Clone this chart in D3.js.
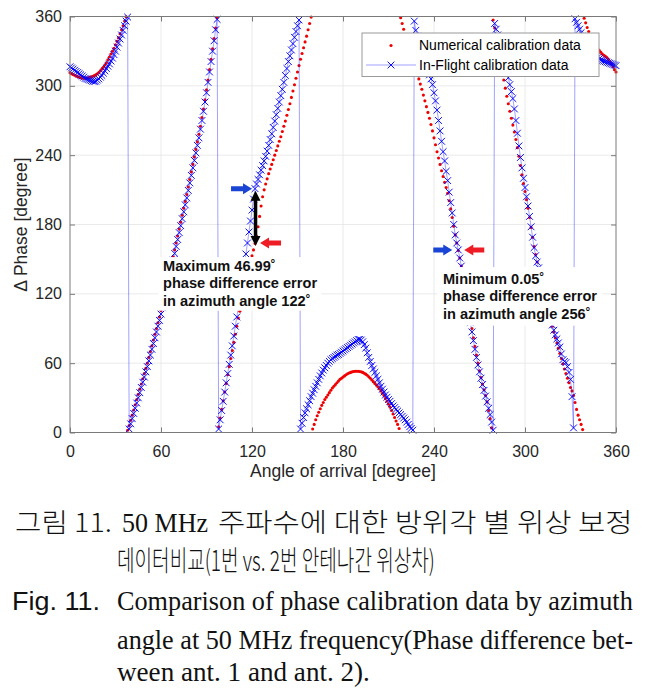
<!DOCTYPE html>
<html><head><meta charset="utf-8">
<script src="https://cdn.jsdelivr.net/npm/d3@7"></script>
<style>body{margin:0;background:#fff}svg{display:block}</style>
</head><body>
<svg id="c" width="650" height="688"></svg>
<script>
// ---------------- DATA ----------------
const angles = d3.range(0, 361, 1); // angle of arrival, 1 degree sampling
// In-Flight calibration data (blue, x markers + line), wrapped 0..360
const inflightPhase = [
 316.5,315.5,314.5,313.5,312.5,311.5,310.5,309.5,308.5,307.5,
 306.5,306,305.5,305,304.5,304,303.8,304,305,306,
 307.5,309,311,313,315,317,319,321.5,324,327,
 330,333.5,337,340.5,344,348,352,356,359.5,3,
 7.5,12,16.5,21,25.5,30,34.5,39,43.5,48,
 52.5,57,62,67,72,77,82,87,92,97,
 102.5,108,113.5,119,125,131,137,143,149,155,
 161,167,173,179,185,191,197,203,209.5,216,
 222.5,229,235.5,242,248.5,255,262.5,270,278,286,
 294,303,312,321,330,339,348.5,357.5,3,11,
 19,27,35,43,51,59,67,75,83.5,92,
 100,109,118,127,136,145,154.5,164,173.5,183,
 192.5,202,211,215,219,223,227,231,235,239,
 243.5,248.5,253.5,258.5,264,269.5,275,280.5,286,291.5,
 297,303,309,315,321,326,331,336.5,342,347,
 352,357,3,8,13,17,20.5,24,27.5,31,
 34,37,40,43,46,49,51.5,54,56,58,
 60,61.5,63,64,65,66,67,67.5,68.5,69.5,
 70.5,71.5,72.5,73.5,74.5,75.5,76.5,77.5,78.5,79.5,
 80.5,80.5,80,78.5,76,73,69,65,61.5,58,
 55,52,49,46,43,40,37.5,35,32.5,30.5,
 28.5,27,25,23,21.5,20,18.5,17,15.5,14,
 12.5,11,9,7,5,3.5,2,356,348,343,
 338,333.5,329,325,321,317,313,309.5,306,301,
 294,287,279,270,261,252,243,235,226,218,
 208,199,190,180,171,164,158,151,144,136,
 128,120,112,104,95,87,79.5,72,65,58.5,
 52.5,47,41.5,36.5,31.5,26.5,21,15.5,9,2,
 354,349,344,339,334,329,324,318.5,313,307,
 301,295,289,280,270,259,248,238,229,220,
 212,204,196,187,178,169,160,153,147.5,142.5,
 137.5,132.5,127,122,116,110,104,98,93,88.5,
 84.5,81,77.5,74,68,63,61.5,60.5,57,52,
 46,31,4,358,355,352,349,346,343,340.5,
 338,336,334,332,330,328.5,327,325.5,324.5,323.5,
 322.5,322,321.5,321,320.5,320,319.5,319,318.5,318,317.5
];
// Numerical calibration data (red dots)
const numericalPhase = [
 311.4,310.5,309.8,309.2,308.6,308,307.5,307,306.7,306.5,
 306.6,306.8,307,307.4,307.8,308.3,308.8,309.5,310.5,311.5,
 313,314.5,316,318,320,322.5,325,327.5,330,332.5,
 335.5,338.5,341.5,345,348.5,352,356,359.8,2,6,
 10.5,15,19.5,24,28.5,33,37.5,42,46.5,51,
 55.5,60,65,70,75,80,85,90,95,100,
 105.5,111,116.5,122,128,134,140,146,152,158,
 164,170,176,182,188,194,200,206,212.5,219,
 225.5,232,238.5,245,251.5,258,265,272.5,280,288,
 296.5,305,314,323,332,341,350,359,5,12.5,
 20,27.5,35,42.5,50,57,64,71,78,85,
 92,99,105,111,117,123,129,135,141,147,
 153,158,163.5,170,178,187,196,204,210,215,
 219.5,224,228,232,236,240,244,248,252,256,
 260.5,265,269.5,274.5,279.5,284.5,290,295.5,301,306.5,
 312,317.5,323,328,333,338,343,348.5,354,359.5,
 3,7,11,14.5,17.5,20.5,23.5,26,28.5,30.5,
 32.5,34.5,36.5,38.5,40,41.5,43,44.5,46,47,
 48,49,50,50.8,51.5,52,52.5,52.8,53,53,
 53,52.8,52.5,52,51.3,50.5,49.5,48.3,47,45.5,
 44,42.5,41,39.5,37.8,36,34,32,29.5,27,
 24.5,22,19,16,13,10,7,3.5,359,354,
 349,344,339.5,335,330.5,326.5,322.5,318.5,314.5,310.5,
 306,301.5,297,292,287,282,277,272,266.5,261,
 255,249,243,237.5,232,226.5,221.5,216.5,212,207,
 200.5,193.5,186,178.5,171,164,157.5,151,144,136.5,
 129,121.5,114,106,98,90,82,74.5,67,60,
 53.5,47.5,42,37,32,26.5,19,12,4,357,
 350,342.5,335,327.5,320,312.5,305,298,291,284.5,
 278,272,266,260,253.5,246.5,239,231,223,215.5,
 208.5,201.5,194,186,177.5,169,161,154,147.5,141.5,
 135.5,130,124.5,119,113.5,108,102.5,97,92,87,
 82,77.5,73,68.5,64,59.5,55,51,47,43,
 39,36,32,26,20,15,11,7,2.5,358.5,
 354.5,350.5,347,344,341,338.5,336,334,332,330.5,
 329,327.5,326.5,325.5,324.5,323,321,319,316.5,314,312
];
const xTicks = [0, 60, 120, 180, 240, 300, 360];
const yTicks = [0, 60, 120, 180, 240, 300, 360];
const seriesNames = ["Numerical calibration data", "In-Flight calibration data"];
const xLabel = "Angle of arrival [degree]";
const yLabel = "\u0394 Phase [degree]";
// annotations: [angle, in-flight value, numerical value]
const maxErr = {angle: 122, blue: 211, red: 164, lines: ["Maximum 46.99\u02DA", "phase difference error", "in azimuth angle 122\u02DA"], textAt: [61.3, 144]};
const minErr = {angle: 256, blue: 158, red: 158, lines: ["Minimum 0.05\u02DA", "phase difference error", "in azimuth angle 256\u02DA"], textAt: [245.9, 132.8]};
const captionKo = ["그림 11.", "50 MHz", "주파수에 대한 방위각 별 위상 보정", "데이터비교(1번 vs. 2번 안테나간 위상차)"];
const captionEn = ["Fig. 11.", "Comparison of phase calibration data by azimuth", "angle at 50 MHz frequency(Phase difference bet-", "ween ant. 1 and ant. 2)."];

// ---------------- DRAW ----------------
const svg = d3.select("#c");
const L = 70, R = 616, T = 16.5, B = 432.5;
const x = d3.scaleLinear().domain([0, 360]).range([L, R]);
const y = d3.scaleLinear().domain([0, 360]).range([B, T]);
const sans = "'Liberation Sans', Arial, sans-serif";

// grid
const g = svg.append("g");
g.selectAll(".gx").data(xTicks.slice(1, -1)).join("line")
  .attr("x1", d => x(d)).attr("x2", d => x(d)).attr("y1", T).attr("y2", B)
  .attr("stroke", "#e4e4e4").attr("stroke-width", 0.8);
g.selectAll(".gy").data(yTicks.slice(1, -1)).join("line")
  .attr("y1", d => y(d)).attr("y2", d => y(d)).attr("x1", L).attr("x2", R)
  .attr("stroke", "#e4e4e4").attr("stroke-width", 0.8);

// axes
const axisColor = "#7a7a7a";
function styleAxis(sel, showText) {
  sel.select(".domain").remove();
  sel.selectAll(".tick line").attr("stroke", axisColor).attr("stroke-width", 1);
  sel.selectAll("text").attr("fill", "#262626").style("font-family", sans).style("font-size", "16px");
  if (!showText) sel.selectAll("text").remove();
}
svg.append("g").attr("transform", `translate(0,${B})`)
  .call(d3.axisBottom(x).tickValues(xTicks).tickSize(-5).tickPadding(13).tickFormat(d3.format("d")))
  .call(s => styleAxis(s, true));
svg.append("g").attr("transform", `translate(0,${T})`)
  .call(d3.axisTop(x).tickValues(xTicks).tickSize(-5))
  .call(s => styleAxis(s, false));
svg.append("g").attr("transform", `translate(${L},0)`)
  .call(d3.axisLeft(y).tickValues(yTicks).tickSize(-5).tickPadding(8).tickFormat(d3.format("d")))
  .call(s => styleAxis(s, true));
svg.append("g").attr("transform", `translate(${R},0)`)
  .call(d3.axisRight(y).tickValues(yTicks).tickSize(-5))
  .call(s => styleAxis(s, false));

svg.append("text").attr("x", (L + R) / 2).attr("y", 477).attr("text-anchor", "middle")
  .style("font-family", sans).style("font-size", "17.5px").attr("fill", "#262626").text(xLabel);
svg.append("text").attr("transform", `translate(27,${(T + B) / 2}) rotate(-90)`).attr("text-anchor", "middle")
  .style("font-family", sans).style("font-size", "17.5px").attr("fill", "#262626").text(yLabel);

// data
const pts = angles.map((a, i) => ({a, n: numericalPhase[i], f: inflightPhase[i]}));
const plot = svg.append("g");
plot.selectAll(".rd").data(pts).join("circle")
  .attr("cx", d => x(d.a)).attr("cy", d => y(d.n)).attr("r", 1.55).attr("fill", "#f00000");
plot.append("path").datum(pts)
  .attr("d", d3.line().x(d => x(d.a)).y(d => y(d.f)))
  .attr("fill", "none").attr("stroke", "#2020ff").attr("stroke-width", 0.6).attr("stroke-opacity", 0.7);
const xm = 3.4;
const xPath = (cx, cy) => `M${cx - xm},${cy - xm}L${cx + xm},${cy + xm}M${cx - xm},${cy + xm}L${cx + xm},${cy - xm}`;
plot.selectAll(".bx").data(pts).join("path")
  .attr("d", d => xPath(x(d.a), y(d.f)))
  .attr("stroke", "#0000ff").attr("stroke-width", 0.95).attr("fill", "none");

// box
svg.append("rect").attr("x", L).attr("y", T).attr("width", R - L).attr("height", B - T)
  .attr("fill", "none").attr("stroke", axisColor).attr("stroke-width", 1);

// legend
const lg = svg.append("g");
lg.append("rect").attr("x", 362).attr("y", 33).attr("width", 237).attr("height", 43.5)
  .attr("fill", "#fff").attr("stroke", "#9a9a9a").attr("stroke-width", 1);
lg.append("circle").attr("cx", 391).attr("cy", 45.5).attr("r", 1.6).attr("fill", "#f00000");
lg.append("line").attr("x1", 366).attr("x2", 416).attr("y1", 65).attr("y2", 65).attr("stroke", "#2020ff").attr("stroke-width", 0.6).attr("stroke-opacity", 0.7);
lg.append("path").attr("d", xPath(391, 65)).attr("stroke", "#0000ff").attr("stroke-width", 0.95);
seriesNames.forEach((s, i) => lg.append("text").attr("x", 419).attr("y", 50 + i * 19.5)
  .style("font-family", sans).style("font-size", "14px").attr("fill", "#000").text(s));

// annotations
const ann = svg.append("g");
function arrowH(cx, cy, dir, color, len, shaft, head, headLen) {
  const t = cx, b = cx - dir * len, h = cx - dir * headLen;
  const p = [[b, cy - shaft / 2], [h, cy - shaft / 2], [h, cy - head / 2], [t, cy], [h, cy + head / 2], [h, cy + shaft / 2], [b, cy + shaft / 2]];
  ann.append("polygon").attr("points", p.map(q => q.join(",")).join(" ")).attr("fill", color);
}
function arrowV2(cx, y1, y2, color, shaft, head, headLen) {
  const p = [[cx, y1], [cx + head / 2, y1 + headLen], [cx + shaft / 2, y1 + headLen], [cx + shaft / 2, y2 - headLen], [cx + head / 2, y2 - headLen], [cx, y2],
    [cx - head / 2, y2 - headLen], [cx - shaft / 2, y2 - headLen], [cx - shaft / 2, y1 + headLen], [cx - head / 2, y1 + headLen]];
  ann.append("polygon").attr("points", p.map(q => q.join(",")).join(" ")).attr("fill", color);
}
const blueA = "#1a44d4", redA = "#ee1c24";
arrowH(x(maxErr.angle) - 3, y(maxErr.blue), 1, blueA, 21, 5, 11, 9);
arrowH(x(maxErr.angle) + 5, y(maxErr.red), -1, redA, 21, 5, 11, 9);
arrowV2(x(maxErr.angle) + 0.5, y(maxErr.blue) + 2, y(maxErr.red) + 3, "#000", 3.5, 10, 10);
arrowH(x(minErr.angle) - 6, y(minErr.blue), 1, blueA, 19, 5, 11, 9);
arrowH(x(minErr.angle) + 6, y(minErr.red), -1, redA, 20, 5, 11, 9);

function textBox(a, padL, padR, padT, padB) {
  const gg = svg.append("g");
  const bg = gg.append("rect").attr("fill", "#fff");
  const x0 = x(a.textAt[0]), y0 = y(a.textAt[1]) + 5;
  const nodes = a.lines.map((l, i) => gg.append("text").attr("x", x0).attr("y", y0 + i * 17.3)
    .style("font-family", sans).style("font-size", "14.6px").style("font-weight", "bold").attr("fill", "#111").text(l).node());
  const bbs = nodes.map(n => n.getBBox());
  const x1 = d3.min(bbs, b => b.x), x2 = d3.max(bbs, b => b.x + b.width);
  const yTop = y0 - 11, yBot = y0 + 2 * 17.3 + 4;
  bg.attr("x", x1 - padL).attr("y", yTop - padT).attr("width", x2 - x1 + padL + padR).attr("height", yBot - yTop + padT + padB);
}
textBox(maxErr, 5, 4, 3, 1);
textBox(minErr, 6, 5, 6, 3);

// caption (horizontally condensed to the measured widths)
const ko = "'Noto Sans CJK KR', sans-serif";
const serif = "'Liberation Serif', 'Times New Roman', serif";
function cap(str, x0, yb, len, font, size, weight) {
  const t = svg.append("text").attr("x", 0).attr("y", 0)
    .style("font-family", font).style("font-size", size + "px").style("font-weight", weight || 400).attr("fill", "#111").text(str);
  const w = t.node().getComputedTextLength();
  t.attr("transform", `translate(${x0},${yb}) scale(${len / w},1)`);
}
cap(captionKo[0], 15, 532, 97, ko, 26, 300);
cap(captionKo[1], 122, 532, 86, serif, 28);
cap(captionKo[2], 218, 532, 415, ko, 26, 300);
cap(captionKo[3], 117, 571, 318, ko, 28, 300);
cap(captionEn[0], 12, 610, 88, sans, 26, 300);
cap(captionEn[1], 117, 610, 516, serif, 28);
cap(captionEn[2], 117, 649, 516, serif, 28);
cap(captionEn[3], 117, 681, 253, serif, 28);
</script>
</body></html>
